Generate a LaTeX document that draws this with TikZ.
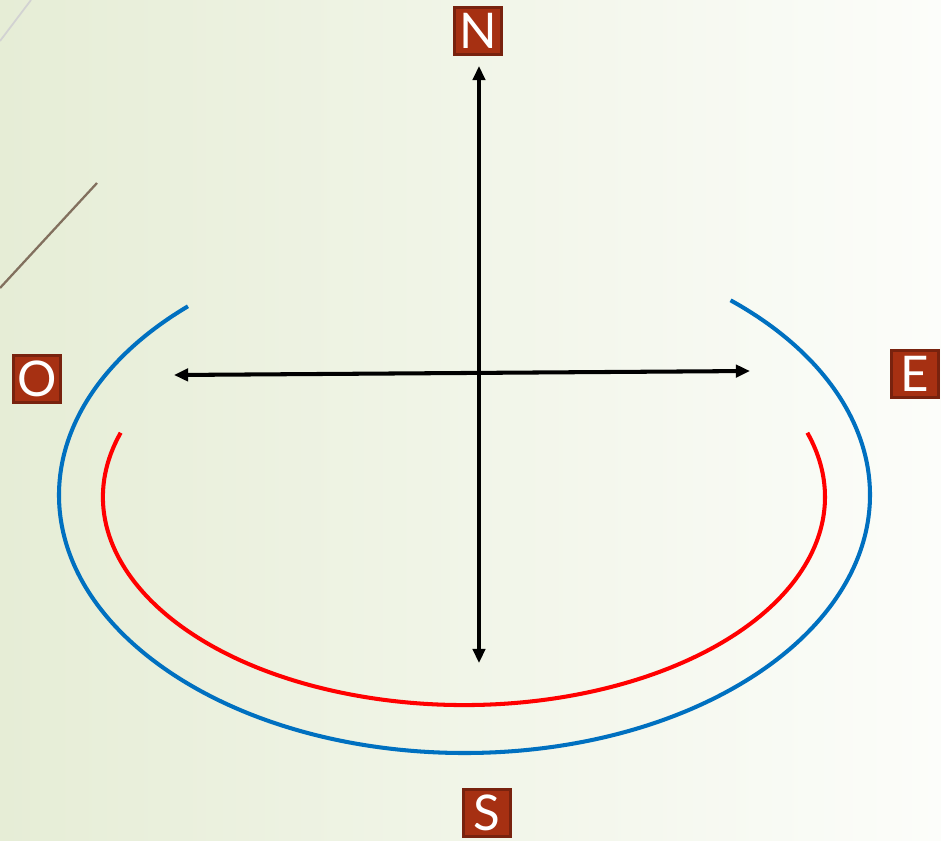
\documentclass[tikz,border=0pt]{standalone}
\usepackage{fontspec}
\setsansfont{Lato}
\usetikzlibrary{arrows.meta}
\definecolor{boxred}{RGB}{166,48,18}
\definecolor{boxedge}{RGB}{120,34,14}
\definecolor{arcblue}{RGB}{0,112,192}
\definecolor{arcred}{RGB}{255,0,0}
\definecolor{bgleft}{RGB}{230,237,214}
\definecolor{bgright}{RGB}{252,253,250}
\begin{document}
\begin{tikzpicture}[x=0.02cm, y=-0.02cm,
    cardinal/.style={rectangle, fill=boxred, draw=boxedge, line width=1.5pt, minimum width=0.94cm, minimum height=0.94cm, inner sep=0pt, text=white, font=\sffamily\fontsize{28}{28}\selectfont},
    axis/.style={{Triangle[width=7pt,length=8pt]}-{Triangle[width=7pt,length=8pt]}, line width=2.3pt, black},
    orbit/.style={line width=2.3pt}
]
% fondo
\shade[left color=bgleft, right color=bgright] (0,0) rectangle (941,840);
\useasboundingbox (0,0) rectangle (941,840);
\draw[gray!35, line width=1pt] (0,41) -- (31,0);
\draw[black!60!brown!70, line width=1.3pt] (0,288) -- (97,183);

% puntos cardinales
\node[cardinal] (north) at (478,31) {N};
\node[cardinal] (west) at (37,379) {O};
\node[cardinal] (east) at (915,374) {E};
\node[cardinal] (south) at (487,813) {S};

% ejes
\coordinate (top) at (479,66);
\coordinate (bottom) at (479,663);
\coordinate (left) at (174,375);
\coordinate (right) at (750,371);
\draw[axis] (bottom) -- (top);
\draw[axis] (left) -- (right);

% arcos
\draw[orbit, arcblue] (464.5,495) ++(227:405.5 and 258) arc[start angle=227, end angle=-49, x radius=405.5, y radius=258];
\draw[orbit, arcred] (464,497) ++(198:361 and 208) arc[start angle=198, end angle=-18, x radius=361, y radius=208];
\end{tikzpicture}
\end{document}
